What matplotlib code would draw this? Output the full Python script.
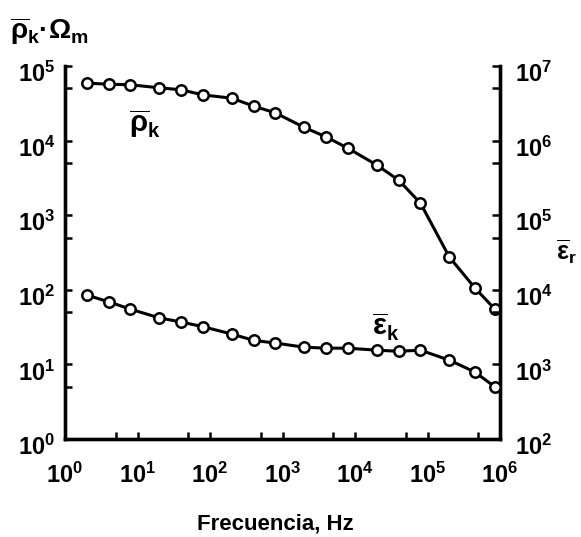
import numpy as np
import matplotlib
matplotlib.use('Agg')
import matplotlib.pyplot as plt
from matplotlib import font_manager
from matplotlib.transforms import ScaledTranslation
from matplotlib.ticker import FixedLocator, FuncFormatter, NullFormatter

# Frequency sweep (Hz) and measured averages
freq = [2, 4, 8, 20, 40, 80, 200, 400, 800, 2e3, 4e3, 8e3,
        2e4, 4e4, 8e4, 2e5, 4.5e5, 8.5e5]
rho_k = [5.9e4, 5.7e4, 5.6e4, 5.1e4, 4.8e4, 4.1e4, 3.7e4, 2.9e4, 2.35e4,
         1.5e4, 1.12e4, 7.9e3, 4.7e3, 2.95e3, 1.45e3, 275, 106, 55]
eps_k = [8.5e3, 6.9e3, 5.5e3, 4.2e3, 3.7e3, 3.2e3, 2.55e3, 2.1e3, 1.93e3,
         1.7e3, 1.65e3, 1.65e3, 1.55e3, 1.5e3, 1.55e3, 1.14e3, 790, 500]

# decade exponents shown on each axis
x_decades = [0, 1, 2, 3, 4, 5, 6]
rho_decades = [0, 1, 2, 3, 4, 5]
eps_decades = [2, 3, 4, 5, 6, 7]


def pick_font():
    for name in ['Liberation Sans Narrow', 'Liberation Sans', 'DejaVu Sans']:
        try:
            font_manager.findfont(font_manager.FontProperties(family=name),
                                  fallback_to_default=False)
            return name
        except ValueError:
            continue
    return 'DejaVu Sans'


font = pick_font()
plt.rcParams['font.family'] = [font, 'DejaVu Sans']
plt.rcParams['font.weight'] = 'bold'
plt.rcParams['mathtext.fontset'] = 'custom'
for key in ['rm', 'it', 'bf', 'sf']:
    plt.rcParams[f'mathtext.{key}'] = f'{font}:bold'
plt.rcParams['mathtext.fallback'] = 'stixsans'

fig = plt.figure(figsize=(5.81, 5.37), dpi=100)
ax = fig.add_axes([65 / 581, 1 - 439 / 537, 435 / 581, 373 / 537])
ax2 = ax.twinx()

line_kw = dict(color='black', lw=2.2, marker='o', ms=7.5, mfc='white',
               mec='black', mew=1.8, zorder=3)
ax.plot(freq, rho_k, **line_kw)
ax2.plot(freq, eps_k, **line_kw)

ax.set_xscale('log')
ax.set_yscale('log')
ax2.set_yscale('log')
ax.set_xlim(10.0 ** x_decades[0], 10.0 ** x_decades[-1])
ax.set_ylim(10.0 ** rho_decades[0], 10.0 ** rho_decades[-1])
ax2.set_ylim(10.0 ** eps_decades[0], 10.0 ** eps_decades[-1])


def power_label(v, pos):
    return f'$10^{{{int(round(np.log10(v)))}}}$'


# major ticks at each decade, minor ticks at 5x within the range
for axis, decs in [(ax.xaxis, x_decades), (ax.yaxis, rho_decades),
                   (ax2.yaxis, eps_decades)]:
    axis.set_major_locator(FixedLocator([10.0 ** d for d in decs]))
    axis.set_minor_locator(FixedLocator([5 * 10.0 ** d for d in decs[:-1]]))
    axis.set_major_formatter(FuncFormatter(power_label))
    axis.set_minor_formatter(NullFormatter())

for a in (ax, ax2):
    a.spines['top'].set_visible(False)
    for s in a.spines.values():
        s.set_linewidth(2.4)

ax.tick_params(axis='both', which='both', direction='in', length=5,
               width=1.8, labelsize=17)
ax.tick_params(axis='x', pad=17)
ax.tick_params(axis='y', pad=7)
ax2.tick_params(axis='y', which='both', direction='in', length=6,
                width=1.8, labelsize=17, pad=11)

# Curve labels
ax.text(0.184, 0.845, r'$\overline{\rho}_{k}$', transform=ax.transAxes,
        fontsize=21, ha='center', va='center')
ax.text(0.738, 0.30, r'$\overline{\varepsilon}_{k}$', transform=ax.transAxes,
        fontsize=21, ha='center', va='center')

# Axis titles
fig.text(10 / 581, 1 - 47 / 537, '$\\overline{\\rho}_{k}\u00b7\\Omega_{m}$',
         fontsize=20, ha='left', va='bottom')
fig.text(556 / 581, 1 - 252 / 537, r'$\overline{\varepsilon}_{r}$',
         fontsize=18, ha='left', va='center')
fig.text(275 / 581, 1 - 524 / 537, 'Frecuencia, Hz', fontsize=16,
         fontweight='bold', ha='center', va='center')

# Drop the y tick labels a little below their ticks
fig.canvas.draw()
shift = ScaledTranslation(0, -6 / 100, fig.dpi_scale_trans)
for a in (ax, ax2):
    for lab in a.get_yticklabels():
        lab.set_transform(lab.get_transform() + shift)

fig.savefig('out.png', dpi=100)
